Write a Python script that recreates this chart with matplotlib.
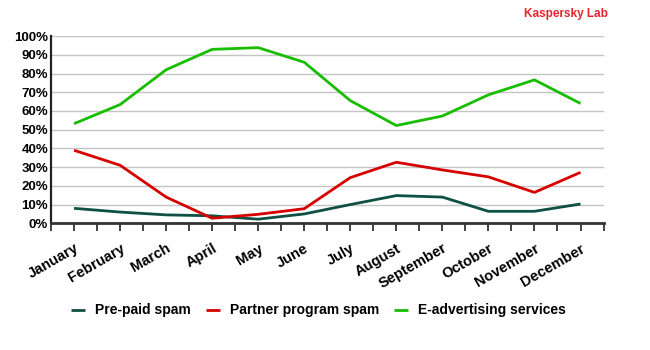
import numpy as np
import matplotlib.pyplot as plt
from matplotlib.ticker import FixedLocator, PercentFormatter

plt.rcParams['font.family'] = ['Liberation Sans', 'DejaVu Sans']

# ---- data (share of spam, %) ----
months = ["January", "February", "March", "April", "May", "June",
          "July", "August", "September", "October", "November", "December"]
prepaid = [8, 6, 4.5, 4, 2.2, 5, 10, 14.8, 14, 6.4, 6.4, 10.3]
partner = [39, 31, 14, 2.7, 4.8, 7.8, 24.4, 32.6, 28.5, 24.8, 16.5, 27.2]
eadvert = [53.2, 63.4, 82, 92.9, 93.8, 86, 65.5, 52.2, 57.3, 68.6, 76.6, 64]

series = [
    ("Pre-paid spam", prepaid, "#0f5044"),
    ("Partner program spam", partner, "#d70000"),
    ("E-advertising services", eadvert, "#19bd00"),
]

fig = plt.figure(figsize=(6.5, 3.5), dpi=100)
ax = fig.add_axes([0.0785, 0.362, 0.85, 0.535])

x = np.arange(len(months))
for label, vals, col in series:
    ax.plot(x, vals, color=col, lw=2.0, label=label, solid_capstyle="butt")

ax.set_xlim(-0.5, len(months) - 0.5)
ax.set_ylim(0, 100)
ax.set_yticks(np.arange(0, 101, 10))
ax.yaxis.set_major_formatter(PercentFormatter(decimals=0))
ax.grid(axis="y", color="#c4c4c4", lw=1.0)
ax.set_axisbelow(True)

ax.set_xticks(x)
ax.set_xticklabels(months, rotation=30, ha="right", rotation_mode="anchor",
                   fontsize=10.5, fontweight="bold")
ax.xaxis.set_minor_locator(FixedLocator(np.arange(-0.5, len(months), 1.0)))
ax.tick_params(axis="x", which="both", direction="out", length=6, width=1.2,
               color="#222222", pad=7)
ax.tick_params(axis="y", length=0, labelsize=9.5, pad=2)
for t in ax.get_yticklabels():
    t.set_fontweight("bold")

for s in ["top", "right"]:
    ax.spines[s].set_visible(False)
ax.spines["left"].set_color("#222222")
ax.spines["left"].set_linewidth(1.6)
ax.spines["bottom"].set_color("#333333")
ax.spines["bottom"].set_linewidth(2.0)

fig.text(0.935, 0.96, "Kaspersky Lab", color="#e8232c", fontsize=8.5,
         fontweight="bold", ha="right", va="center")

fig.legend(loc="center", bbox_to_anchor=(0.49, 0.113), ncol=3, frameon=False,
           handlelength=1.0, handletextpad=0.7, columnspacing=1.1,
           prop={"weight": "bold", "size": 10})

fig.savefig("out.png", dpi=100)
